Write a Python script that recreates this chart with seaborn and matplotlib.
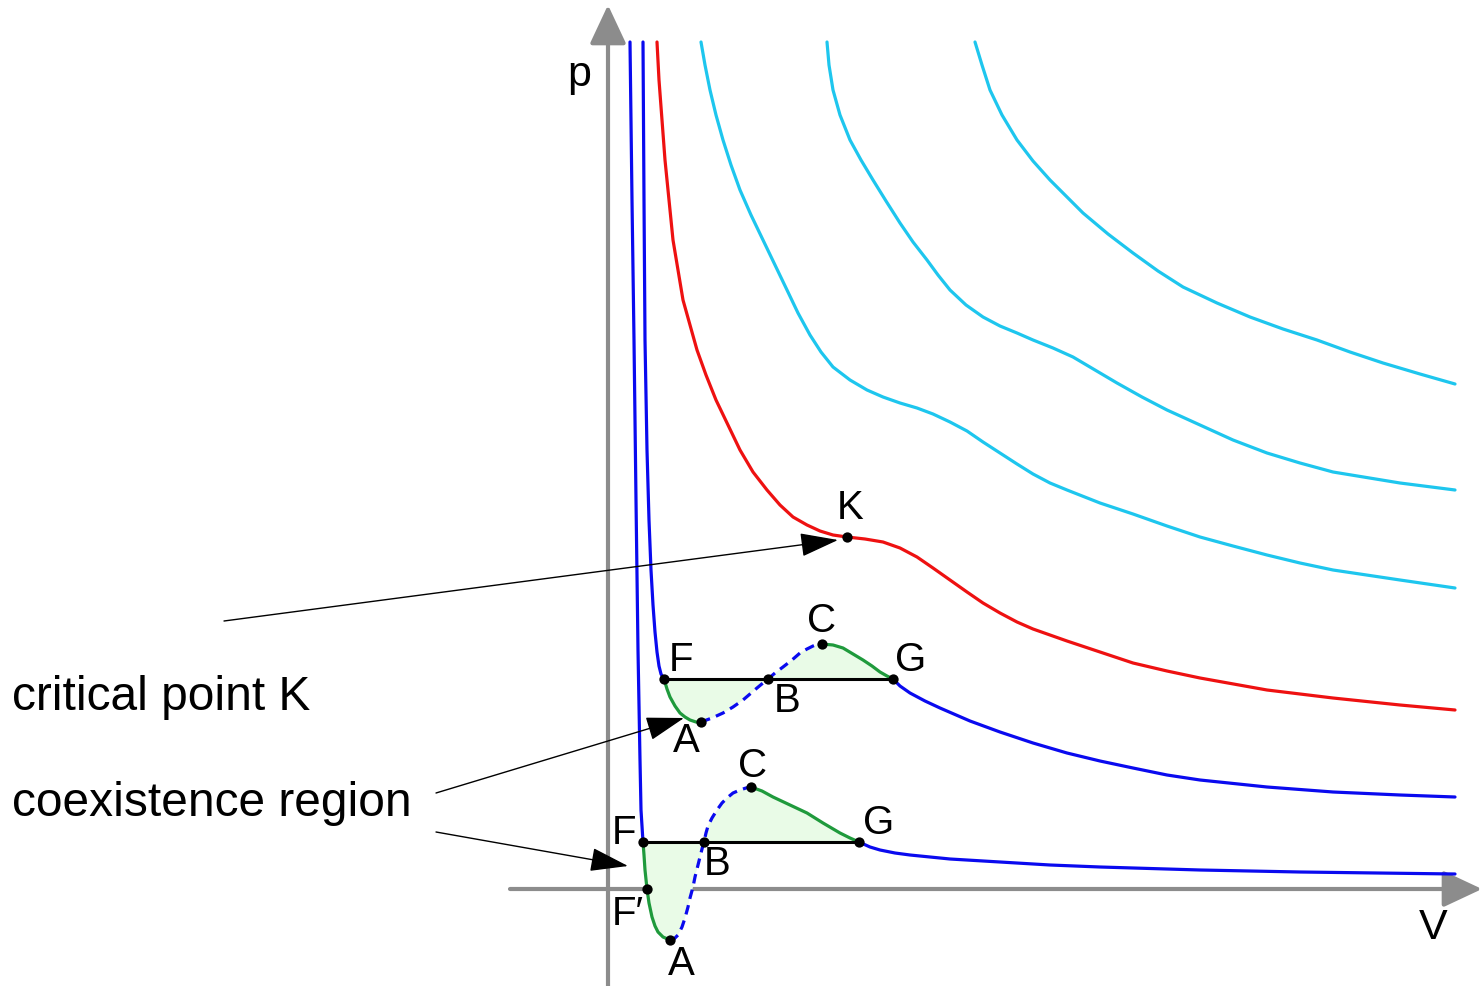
"""
Van der Waals isotherms in the p-V plane with the Maxwell construction
(coexistence region) and the critical point K.
"""

import matplotlib
matplotlib.use("Agg")
import matplotlib.pyplot as plt
import pandas as pd
import seaborn as sns

# --- isotherm below critical temperature (lowest) ---
t1_liquid_v = [0.22, 0.24, 0.26, 0.28, 0.30, 0.32, 0.33, 0.35]
t1_liquid_p = [8.47, 6.89, 5.49, 3.89, 2.39, 1.29, 0.79, 0.47]
t1_meta_liq_v = [0.35, 0.36, 0.37, 0.39, 0.41, 0.44, 0.47, 0.50, 0.55, 0.62]
t1_meta_liq_p = [0.47, 0.34, 0.19, 0.00, -0.14, -0.28, -0.37, -0.43, -0.48, -0.51]
t1_unstable_v = [0.62, 0.66, 0.70, 0.74, 0.77, 0.80, 0.82, 0.85, 0.87, 0.90, 0.92, 0.94,
                 0.96, 0.98, 1.00, 1.04, 1.09, 1.14, 1.19, 1.25, 1.32, 1.38, 1.43]
t1_unstable_p = [-0.51, -0.50, -0.46, -0.38, -0.29, -0.18, -0.09, 0.02, 0.12, 0.24, 0.32, 0.40,
                 0.47, 0.56, 0.63, 0.71, 0.79, 0.86, 0.91, 0.96, 0.99, 1.01, 1.02]
t1_meta_gas_v = [1.43, 1.54, 1.65, 1.82, 1.99, 2.15, 2.32, 2.42, 2.51]
t1_meta_gas_p = [1.02, 0.98, 0.92, 0.84, 0.76, 0.66, 0.56, 0.51, 0.47]
t1_gas_v = [2.51, 2.62, 2.72, 2.87, 3.02, 3.42, 3.92, 4.42, 4.92, 5.92, 6.92, 8.47]
t1_gas_p = [0.47, 0.42, 0.39, 0.36, 0.34, 0.30, 0.27, 0.24, 0.22, 0.19, 0.17, 0.15]

# --- second isotherm below critical temperature ---
t2_liquid_v = [0.35, 0.36, 0.37, 0.39, 0.41, 0.43, 0.45, 0.47, 0.49, 0.51, 0.53, 0.56]
t2_liquid_p = [8.47, 6.89, 5.49, 4.39, 3.69, 3.19, 2.84, 2.57, 2.37, 2.23, 2.15, 2.10]
t2_meta_liq_v = [0.56, 0.59, 0.62, 0.67, 0.72, 0.77, 0.82, 0.88, 0.93]
t2_meta_liq_p = [2.10, 2.00, 1.92, 1.83, 1.76, 1.72, 1.69, 1.67, 1.67]
t2_unstable_v = [0.93, 1.04, 1.15, 1.25, 1.35, 1.42, 1.49, 1.55, 1.60, 1.67, 1.75, 1.84,
                 1.92, 1.99, 2.05, 2.10, 2.14]
t2_unstable_p = [1.67, 1.71, 1.76, 1.82, 1.89, 1.95, 2.01, 2.06, 2.10, 2.16, 2.22, 2.29,
                 2.36, 2.40, 2.43, 2.45, 2.45]
t2_meta_gas_v = [2.14, 2.25, 2.35, 2.45, 2.55, 2.64, 2.72, 2.79, 2.85]
t2_meta_gas_p = [2.45, 2.44, 2.41, 2.35, 2.29, 2.23, 2.17, 2.13, 2.10]
t2_gas_v = [2.85, 2.92, 3.02, 3.17, 3.32, 3.62, 3.92, 4.25, 4.59, 4.92, 5.25, 5.59,
            5.92, 6.59, 7.25, 7.92, 8.47]
t2_gas_p = [2.10, 2.03, 1.96, 1.88, 1.81, 1.68, 1.57, 1.46, 1.36, 1.28, 1.21, 1.14,
            1.09, 1.02, 0.97, 0.94, 0.92]

# --- critical isotherm ---
crit_v = [0.49, 0.51, 0.54, 0.57, 0.61, 0.65, 0.70, 0.75, 0.82, 0.89, 0.98, 1.08,
          1.20, 1.32, 1.45, 1.59, 1.72, 1.85, 1.99, 2.12, 2.25, 2.39, 2.57, 2.75,
          2.92, 3.09, 3.25, 3.42, 3.59, 3.75, 3.92, 4.09, 4.25, 4.42, 4.59, 4.92,
          5.25, 5.59, 5.92, 6.59, 7.25, 7.92, 8.47]
crit_p = [8.47, 8.09, 7.69, 7.29, 6.89, 6.49, 6.19, 5.89, 5.64, 5.39, 5.14, 4.89,
          4.64, 4.39, 4.17, 3.99, 3.84, 3.72, 3.64, 3.58, 3.54, 3.52, 3.50, 3.47,
          3.41, 3.32, 3.21, 3.09, 2.97, 2.86, 2.76, 2.67, 2.60, 2.54, 2.48, 2.37,
          2.26, 2.18, 2.11, 1.99, 1.91, 1.84, 1.79]

# --- isotherms above critical temperature ---
hot1_v = [0.93, 0.97, 1.02, 1.08, 1.15, 1.23, 1.32, 1.43, 1.55, 1.67, 1.79, 1.90,
          2.02, 2.13, 2.25, 2.42, 2.59, 2.75, 2.92, 3.09, 3.25, 3.42, 3.59, 3.75,
          3.92, 4.09, 4.25, 4.42, 4.59, 4.92, 5.25, 5.59, 5.92, 6.25, 6.59, 6.92,
          7.25, 7.92, 8.47]
hot1_p = [8.47, 8.24, 7.99, 7.74, 7.49, 7.24, 6.99, 6.74, 6.49, 6.24, 5.99, 5.76,
          5.54, 5.37, 5.22, 5.09, 4.99, 4.92, 4.86, 4.81, 4.75, 4.67, 4.58, 4.47,
          4.36, 4.25, 4.15, 4.06, 3.99, 3.86, 3.75, 3.63, 3.52, 3.43, 3.34, 3.26,
          3.19, 3.09, 3.01]
hot2_v = [2.19, 2.21, 2.25, 2.32, 2.42, 2.53, 2.65, 2.78, 2.92, 3.05, 3.19, 3.30,
          3.42, 3.58, 3.75, 3.92, 4.09, 4.25, 4.45, 4.65, 4.87, 5.09, 5.34, 5.59,
          5.92, 6.25, 6.59, 6.92, 7.25, 7.92, 8.47]
hot2_p = [8.47, 8.24, 7.99, 7.74, 7.49, 7.29, 7.09, 6.88, 6.66, 6.47, 6.29, 6.14,
          5.99, 5.84, 5.72, 5.63, 5.56, 5.49, 5.41, 5.32, 5.19, 5.06, 4.92, 4.79,
          4.64, 4.49, 4.36, 4.26, 4.17, 4.06, 3.99]
hot3_v = [3.67, 3.74, 3.82, 3.94, 4.09, 4.25, 4.42, 4.59, 4.75, 5.00, 5.25, 5.50,
          5.75, 6.09, 6.42, 6.75, 7.09, 7.42, 7.75, 8.12, 8.47]
hot3_p = [8.47, 8.24, 7.99, 7.74, 7.49, 7.28, 7.09, 6.92, 6.76, 6.55, 6.36, 6.18,
          6.02, 5.86, 5.72, 5.60, 5.49, 5.37, 5.26, 5.15, 5.05]

# --- labelled points ---
low_names = ["F", "F\u2032", "A", "B", "C", "G"]
low_v = [0.35, 0.39, 0.62, 0.96, 1.43, 2.51]
low_p = [0.47, 0.00, -0.51, 0.47, 1.02, 0.47]
up_names = ["F", "A", "B", "C", "G"]
up_v = [0.56, 0.93, 1.60, 2.14, 2.85]
up_p = [2.10, 1.67, 2.10, 2.45, 2.10]
crit_name = "K"
crit_point = (2.39, 3.52)

BLUE = "#0a0aef"
RED = "#ee1111"
CYAN = "#1ec6ee"
GREEN = "#1f9a3c"
FILL = "#e9fbe7"
AXIS = "#8c8c8c"
DASH = (0, (3, 2))

sns.set_theme(style="white")
plt.rcParams["font.family"] = ["Liberation Sans", "DejaVu Sans"]
plt.rcParams["text.color"] = "black"

fig = plt.figure(figsize=(14.82, 9.86), dpi=100)
ax = fig.add_axes([0, 0, 1, 1])
ax.set_xlim(-6.08, 8.74)
ax.set_ylim(-0.97, 8.89)
ax.axis("off")

# axes with arrow heads
axis_arrow = dict(arrowstyle="-|>,head_length=1.6,head_width=0.75", color=AXIS,
                  lw=3, mutation_scale=15, shrinkA=0, shrinkB=0)
ax.annotate("", xy=(0, 8.84), xytext=(0, -0.97), arrowprops=axis_arrow, zorder=1)
ax.annotate("", xy=(8.74, 0), xytext=(-0.98, 0), arrowprops=axis_arrow, zorder=1)
ax.text(-0.29, 8.14, "p", fontsize=31, ha="center", va="center", color="black")
ax.text(8.25, -0.39, "V", fontsize=31, ha="center", va="center", color="black")


def line(v, p, color, **kw):
    df = pd.DataFrame({"V": v, "p": p})
    sns.lineplot(data=df, x="V", y="p", sort=False, estimator=None, ax=ax,
                 color=color, linewidth=2.3, zorder=3, **kw)


# coexistence shading (area between loop and the horizontal tie line)
for mv, mp in [
    (t1_meta_liq_v + t1_unstable_v + t1_meta_gas_v, t1_meta_liq_p + t1_unstable_p + t1_meta_gas_p),
    (t2_meta_liq_v + t2_unstable_v + t2_meta_gas_v, t2_meta_liq_p + t2_unstable_p + t2_meta_gas_p),
]:
    ax.fill(mv, mp, color=FILL, zorder=2, lw=0)

for v, p in [(hot1_v, hot1_p), (hot2_v, hot2_p), (hot3_v, hot3_p)]:
    line(v, p, CYAN)
line(crit_v, crit_p, RED)

for liq_v, liq_p, ml_v, ml_p, un_v, un_p, mg_v, mg_p, g_v, g_p in [
    (t1_liquid_v, t1_liquid_p, t1_meta_liq_v, t1_meta_liq_p, t1_unstable_v, t1_unstable_p,
     t1_meta_gas_v, t1_meta_gas_p, t1_gas_v, t1_gas_p),
    (t2_liquid_v, t2_liquid_p, t2_meta_liq_v, t2_meta_liq_p, t2_unstable_v, t2_unstable_p,
     t2_meta_gas_v, t2_meta_gas_p, t2_gas_v, t2_gas_p),
]:
    line(liq_v, liq_p, BLUE)
    line(ml_v, ml_p, GREEN)
    line(un_v, un_p, BLUE, linestyle=DASH)
    line(mg_v, mg_p, GREEN)
    line(g_v, g_p, BLUE)
    # Maxwell tie line F-G
    ax.plot([liq_v[-1], g_v[0]], [liq_p[-1], g_p[0]], color="black", lw=2.2, zorder=4)

# points and their letters
low_offsets = [(-19, 9), (-19, -25), (11, -24), (13, -22), (2, 21), (20, 19)]
up_offsets = [(17, 19), (-15, -19), (19, -22), (0, 23), (18, 19)]
ax.scatter(low_v + up_v + [crit_point[0]], low_p + up_p + [crit_point[1]],
           s=55, color="black", zorder=6, lw=0)
for names, vs, ps, offs in [(low_names, low_v, low_p, low_offsets),
                            (up_names, up_v, up_p, up_offsets)]:
    for n, v, p, off in zip(names, vs, ps, offs):
        ax.annotate(n, (v, p), xytext=off, textcoords="offset pixels", color="black",
                    fontsize=29, ha="center", va="center", zorder=7)
ax.annotate(crit_name, crit_point, xytext=(3, 29), textcoords="offset pixels",
            color="black", fontsize=29, ha="center", va="center", zorder=7)

# explanatory labels and pointers
ax.text(-5.96, 1.92, "critical point K", fontsize=34.5, ha="left", va="center",
        color="black")
ax.text(-5.96, 0.85, "coexistence region", fontsize=34.5, ha="left", va="center",
        color="black")
pointer = dict(arrowstyle="-|>,head_length=1.6,head_width=0.5", color="black",
               lw=1, mutation_scale=15, shrinkA=0, shrinkB=0)
ax.annotate("", xy=(2.30, 3.49), xytext=(-3.84, 2.68), arrowprops=pointer, zorder=8)
ax.annotate("", xy=(0.76, 1.71), xytext=(-1.72, 0.96), arrowprops=pointer, zorder=8)
ax.annotate("", xy=(0.20, 0.23), xytext=(-1.72, 0.57), arrowprops=pointer, zorder=8)

fig.savefig("out.png", dpi=100)
